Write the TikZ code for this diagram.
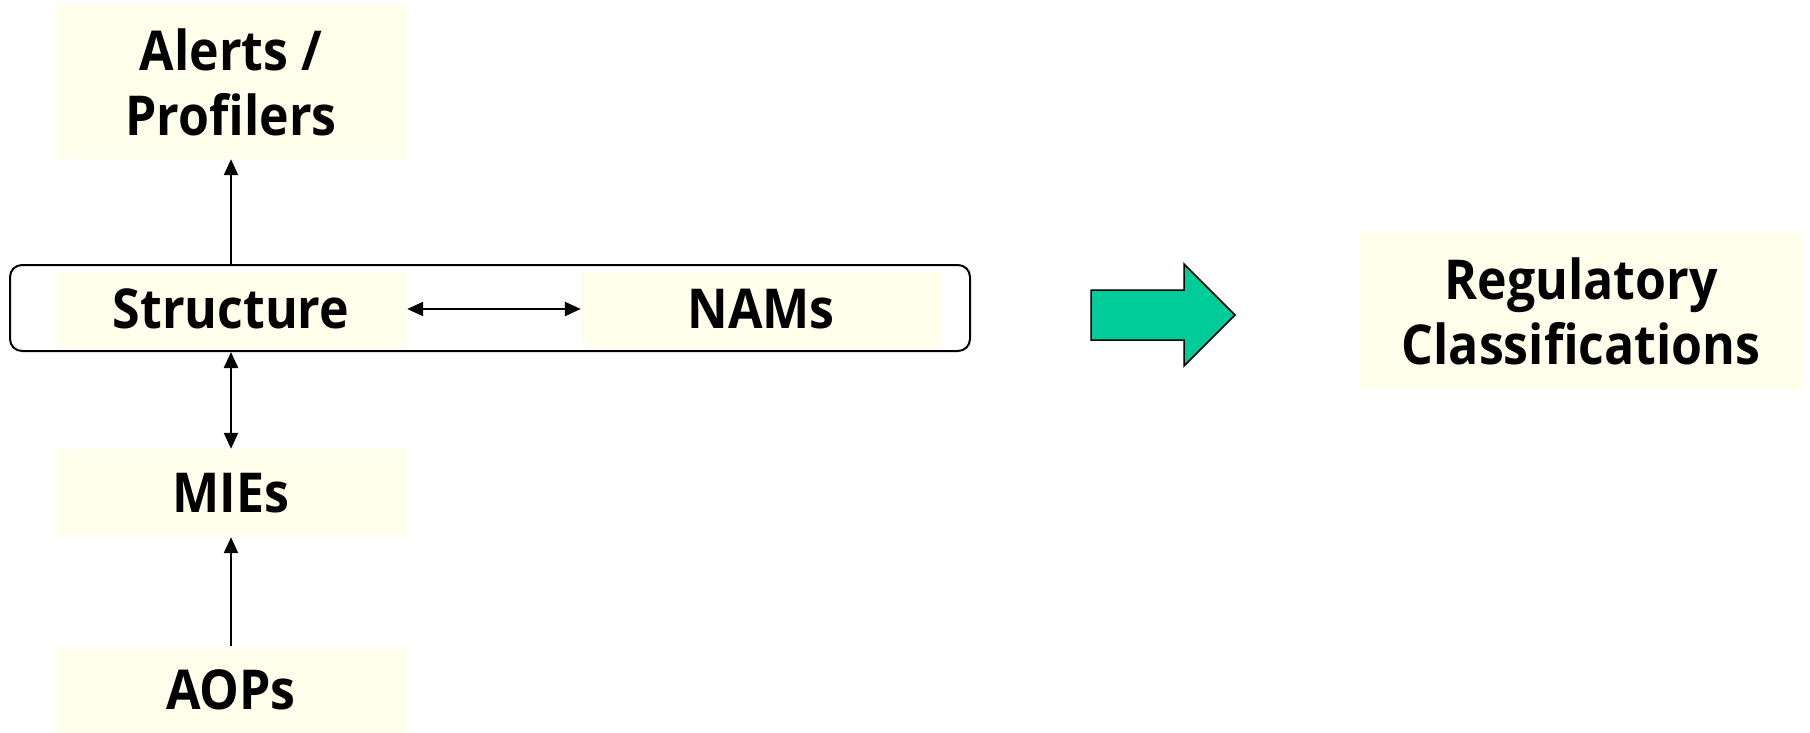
\documentclass[tikz,border=0pt]{standalone}
\usepackage{fontspec}
\setmainfont{Open Sans}[FakeStretch=0.91]
\usetikzlibrary{arrows.meta}
\definecolor{boxfill}{HTML}{FFFFEB}
\definecolor{bigarrow}{HTML}{00CC99}
\begin{document}
\begin{tikzpicture}[x=1pt,y=-1pt,
  lbl/.style={fill=boxfill, draw=none, inner sep=0pt, align=center,
    font=\fontsize{55}{65}\selectfont\bfseries, text=black},
  con/.style={line width=2.4pt, -{Triangle[length=16pt,width=14pt]}},
  dcon/.style={line width=2.4pt, {Triangle[length=16pt,width=14pt]}-{Triangle[length=16pt,width=14pt]}}]
\useasboundingbox (0,0) rectangle (1810,733);
\node[draw=black, line width=2pt, rounded corners=12pt, minimum width=960pt, minimum height=86pt, inner sep=0pt] (container) at (490,308) {};
\node[lbl, minimum width=352pt, minimum height=154pt] (alerts) at (231,82) {Alerts /\\Profilers};
\node[lbl, minimum width=352pt, minimum height=74pt] (structure) at (231,309) {Structure};
\node[lbl, minimum width=360pt, minimum height=74pt] (nams) at (761,309) {NAMs};
\node[lbl, minimum width=352pt, minimum height=88pt] (mies) at (231,493) {MIEs};
\node[lbl, minimum width=352pt, minimum height=87pt] (aops) at (231,690) {AOPs};
\node[lbl, minimum width=443pt, minimum height=157pt] (reg) at (1581,311) {Regulatory\\Classifications};
\draw[con] (container.north -| alerts.south) -- (alerts.south);
\draw[dcon] (structure.east) -- (nams.west);
\draw[dcon] (container.south -| mies.north) -- (mies.north);
\draw[con] (aops.north) -- (mies.south);
\draw[fill=bigarrow, draw=black, line width=1.5pt] (1091,290) -- (1184,290) -- (1184,264) -- (1235,315) -- (1184,366) -- (1184,340) -- (1091,340) -- cycle;
\end{tikzpicture}
\end{document}
